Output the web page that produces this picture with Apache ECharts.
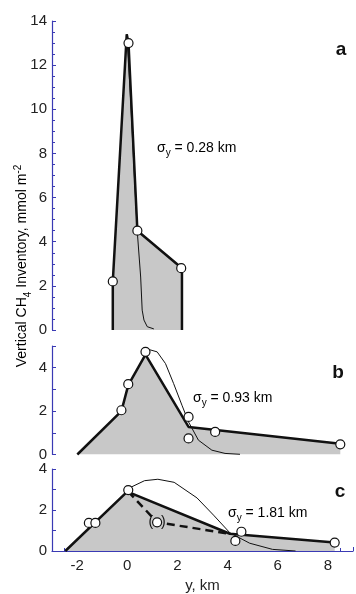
<!DOCTYPE html>
<html>
<head>
<meta charset="utf-8">
<script src="https://cdn.jsdelivr.net/npm/echarts@6/dist/echarts.min.js"></script>
<style>
html,body{margin:0;padding:0;background:#fff;}
#chart{width:356px;height:594px;}
</style>
</head>
<body>
<div id="chart"></div>
<script>
// Cross-shelf CH4 inventory profiles (x: km, y: mmol m^-2)

// Panel a, sigma_y = 0.28 km
const aProfile = [[-0.6,0],[-0.6,2.2],[-0.05,13.4],[0.02,13.0],[0.37,4.5],[2.13,2.8],[2.13,0]];
const aGauss = [[-0.05,13.4],[0.1,10.5],[0.25,7.0],[0.37,4.4],[0.5,2.4],[0.56,0.9],[0.63,0.45],[0.76,0.15],[1.02,0.05]];
const aObs = [[-0.6,2.2],[0.02,13.0],[0.37,4.5],[2.1,2.8]];

// Panel b, sigma_y = 0.93 km
const bProfile = [[-2.0,0],[-0.26,2.0],[0.01,3.2],[0.69,4.6],[2.39,1.27],[8.38,0.5]];
const bGauss = [[0.56,4.73],[0.82,4.84],[1.15,4.73],[1.48,4.19],[1.8,3.27],[2.13,2.27],[2.39,1.5],[2.78,0.66],[3.31,0.2],[3.83,0.05],[4.42,0.01]];
const bObs = [[-0.26,2.04],[0.01,3.24],[0.69,4.73],[2.39,1.73],[2.39,0.74],[3.44,1.04],[8.38,0.47]];

// Panel c, sigma_y = 1.81 km
const cProfile = [[-2.47,0],[0.0,2.9],[4.09,0.84],[8.27,0.41]];
const cGauss = [[0.04,3.05],[0.69,3.43],[1.22,3.5],[1.87,3.35],[2.78,2.59],[3.44,1.75],[4.09,0.89],[4.88,0.38],[5.79,0.08],[6.71,0]];
const cDashed = [[0.04,2.9],[1.19,1.4],[4.09,0.84]];
const cObs = [[-1.53,1.37],[-1.27,1.37],[0.04,2.97],[4.31,0.49],[4.55,0.94],[8.27,0.41]];
const cObsBracketed = [[1.19,1.4]];

const panelNames = ['a','b','c'];
const sigmaLabels = ['0.28 km','0.93 km','1.81 km'];
const yMax = [14, 5, 4];

const AXIS = '#3a3ab4';
const FONT = '"Liberation Sans", Arial, Helvetica, sans-serif';
const FILL = '#c8c8c8';

const grids = [
  {left:52, right:-2.5, top:21, height:309},
  {left:52, right:-2.5, top:346, height:108.5},
  {left:52, right:-2.5, top:469, height:87.7}
];

function yAx(gi, max, interval, minorSplit) {
  return {
    type:'value', gridIndex:gi, min:0, max:max, interval:interval,
    axisLine:{show:true, onZero:false, lineStyle:{color:AXIS, width:1.2}},
    axisTick:{show:true, inside:true, length:4, lineStyle:{color:AXIS, width:1}},
    minorTick:{show:!!minorSplit, splitNumber:minorSplit || 5, length:3, lineStyle:{color:AXIS, width:1}},
    splitLine:{show:false}, minorSplitLine:{show:false},
    axisLabel:{color:'#222', fontSize:15, fontFamily:FONT, margin:5,
      formatter: v => (Math.round(v) % 2 === 0 ? String(v) : '')}
  };
}

function xHidden(gi) {
  return {type:'value', gridIndex:gi, min:-3, max:9, show:false, splitLine:{show:false}};
}

const xBottom = {
  type:'value', gridIndex:2, min:-3, max:9, interval:1,
  axisLine:{show:true, onZero:false, lineStyle:{color:AXIS, width:1.2}},
  axisTick:{show:true, inside:true, length:4, lineStyle:{color:AXIS, width:1}},
  minorTick:{show:true, splitNumber:2, length:3, lineStyle:{color:AXIS, width:1}},
  splitLine:{show:false}, minorSplitLine:{show:false},
  axisLabel:{color:'#222', fontSize:15, fontFamily:FONT, margin:7,
    formatter: v => (v >= -2 && v <= 8 && Math.round(v) % 2 === 0 ? String(v) : '')},
  name:'y, km', nameLocation:'middle', nameGap:27,
  nameTextStyle:{color:'#222', fontSize:15, fontFamily:FONT}
};

function fillSeries(gi, data) {
  return {type:'line', xAxisIndex:gi, yAxisIndex:gi, data:data, symbol:'none',
    lineStyle:{width:0, opacity:0}, areaStyle:{color:FILL, opacity:1}, z:1, silent:true};
}
function lineSeries(gi, data, width, dashed, z) {
  return {type:'line', xAxisIndex:gi, yAxisIndex:gi, data:data, symbol:'none',
    lineStyle:{color:'#111', width:width, type: dashed ? [8,5] : 'solid'}, z:z, silent:true};
}
function obsSeries(gi, data) {
  return {type:'scatter', xAxisIndex:gi, yAxisIndex:gi, data:data, symbol:'circle', symbolSize:9,
    itemStyle:{color:'#fff', borderColor:'#111', borderWidth:1.2, opacity:1}, z:10, silent:true};
}

const series = [
  fillSeries(0, aProfile),
  lineSeries(0, aGauss, 1, false, 3),
  lineSeries(0, aProfile, 2.5, false, 4),
  obsSeries(0, aObs),

  fillSeries(1, bProfile),
  lineSeries(1, bGauss, 1, false, 3),
  lineSeries(1, bProfile, 2.5, false, 4),
  obsSeries(1, bObs),

  fillSeries(2, cProfile),
  lineSeries(2, cGauss, 1, false, 3),
  lineSeries(2, cProfile, 2.5, false, 4),
  lineSeries(2, cDashed, 2.5, true, 4),
  obsSeries(2, cObs),
  Object.assign(obsSeries(2, cObsBracketed), {
    label:{show:true, position:'inside', formatter:'(  )', color:'#111', fontSize:14, fontFamily:FONT}
  })
];

const sigmaRich = {
  s:{fontSize:14, fontFamily:FONT, color:'#222', lineHeight:16, verticalAlign:'bottom'},
  sub:{fontSize:10, fontFamily:FONT, color:'#222', lineHeight:10, verticalAlign:'bottom', padding:[0,0,-3,0]}
};
function sigmaText(x, y, label) {
  return {type:'text', x:x, y:y, silent:true,
    style:{text:'{s|σ}{sub|y}{s| = ' + label + '}', rich:sigmaRich, verticalAlign:'middle', align:'left'}};
}
function panelText(x, y, t) {
  return {type:'text', x:x, y:y, silent:true,
    style:{text:t, fontSize:19, fontWeight:'bold', fontFamily:FONT, fill:'#111', align:'center', verticalAlign:'middle'}};
}

const graphics = [
  {type:'text', x:22, y:266, rotation:Math.PI/2, silent:true,
    style:{
      text:'{t|Vertical CH}{d|4}{t| Inventory, mmol m}{u|-2}',
      align:'center', verticalAlign:'middle',
      rich:{
        t:{fontSize:14, fontFamily:FONT, color:'#222', lineHeight:18, verticalAlign:'middle'},
        d:{fontSize:10, fontFamily:FONT, color:'#222', lineHeight:10, verticalAlign:'bottom', padding:[0,0,-2,0]},
        u:{fontSize:10, fontFamily:FONT, color:'#222', lineHeight:10, verticalAlign:'top'}
      }
    }},
  panelText(341, 50, panelNames[0]),
  panelText(338, 373, panelNames[1]),
  panelText(340, 492, panelNames[2]),
  sigmaText(157, 147, sigmaLabels[0]),
  sigmaText(193, 397, sigmaLabels[1]),
  sigmaText(228, 512, sigmaLabels[2])
];

const chart = echarts.init(document.getElementById('chart'), null, {renderer:'canvas'});
chart.setOption({
  animation:false,
  backgroundColor:'#fff',
  grid:grids,
  xAxis:[xHidden(0), xHidden(1), xBottom],
  yAxis:[yAx(0, yMax[0], 2, 4), yAx(1, yMax[1], 1, 0), yAx(2, yMax[2], 1, 0)],
  series:series,
  graphic:graphics
});
</script>
</body>
</html>
